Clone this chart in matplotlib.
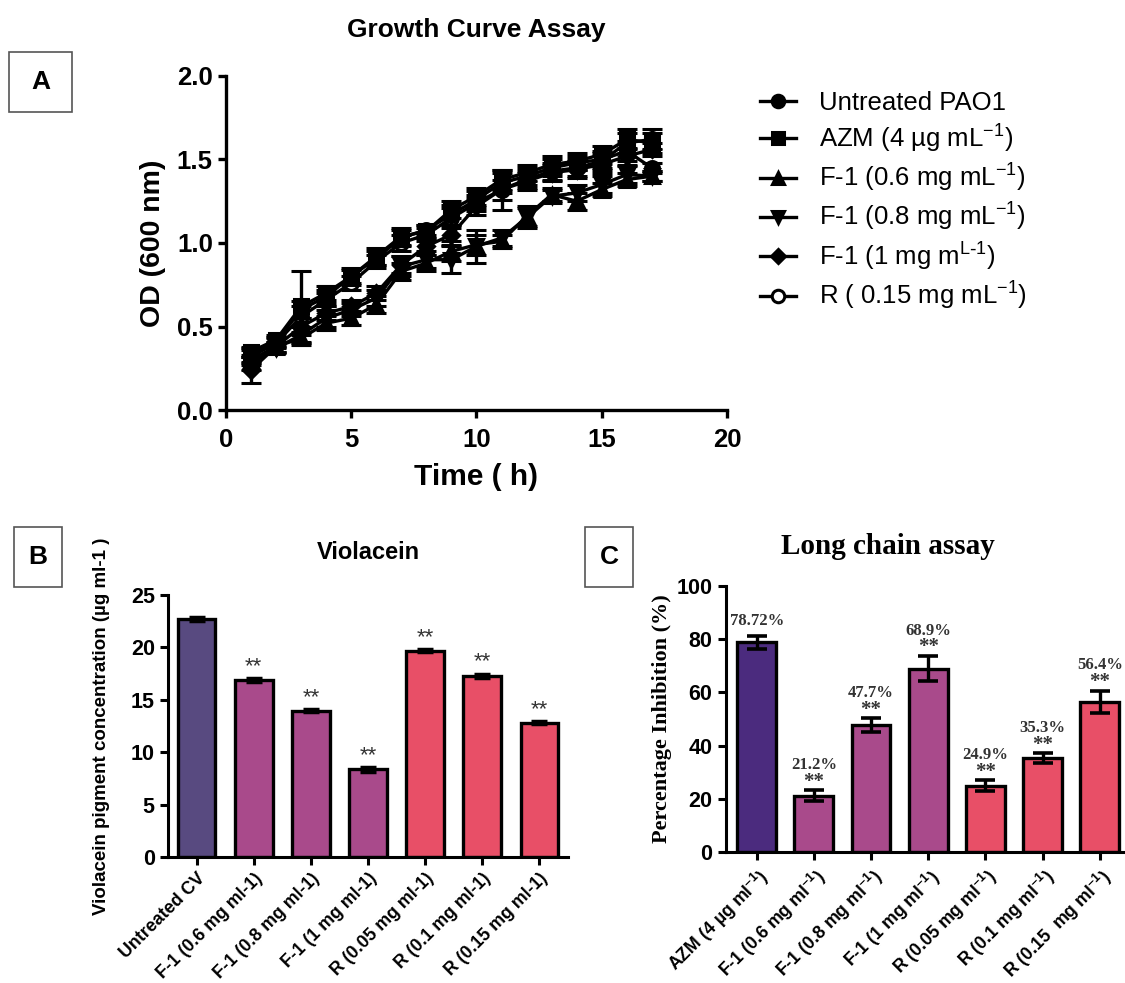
import numpy as np
import matplotlib
matplotlib.use("Agg")
import matplotlib.pyplot as plt
from matplotlib.patches import Rectangle
from matplotlib.lines import Line2D

plt.rcParams['font.family'] = ['Liberation Sans', 'DejaVu Sans']
plt.rcParams['mathtext.default'] = 'regular'

# ---- panel A : growth curve ----
hours = [1, 2, 3, 4, 5, 6, 7, 8, 9, 10, 11, 12, 13, 14, 15, 16, 17]

od_untreated = [0.33, 0.41, 0.60, 0.68, 0.80, 0.91, 1.03, 1.08, 1.17, 1.26, 1.36, 1.40, 1.45, 1.48, 1.50, 1.55, 1.45]
sd_untreated = [0.04, 0.03, 0.05, 0.04, 0.04, 0.04, 0.05, 0.03, 0.06, 0.05, 0.06, 0.05, 0.05, 0.04, 0.05, 0.06, 0.03]
od_azm = [0.35, 0.42, 0.62, 0.70, 0.80, 0.92, 1.04, 1.07, 1.20, 1.28, 1.38, 1.42, 1.47, 1.49, 1.53, 1.62, 1.60]
sd_azm = [0.03, 0.03, 0.21, 0.04, 0.05, 0.05, 0.05, 0.04, 0.05, 0.05, 0.06, 0.05, 0.05, 0.05, 0.05, 0.06, 0.06]
od_f06 = [0.30, 0.38, 0.43, 0.52, 0.55, 0.63, 0.83, 0.88, 0.95, 0.99, 1.01, 1.16, 1.29, 1.25, 1.32, 1.38, 1.40]
sd_f06 = [0.03, 0.03, 0.04, 0.04, 0.04, 0.05, 0.05, 0.05, 0.06, 0.06, 0.04, 0.06, 0.04, 0.05, 0.04, 0.04, 0.03]
od_f08 = [0.28, 0.37, 0.45, 0.55, 0.60, 0.67, 0.86, 0.90, 0.90, 0.98, 1.03, 1.15, 1.28, 1.30, 1.35, 1.41, 1.40]
sd_f08 = [0.04, 0.03, 0.05, 0.05, 0.04, 0.05, 0.06, 0.05, 0.08, 0.10, 0.05, 0.06, 0.04, 0.05, 0.05, 0.05, 0.03]
od_f1 = [0.24, 0.38, 0.50, 0.58, 0.62, 0.70, 0.87, 0.98, 1.05, 1.22, 1.32, 1.37, 1.42, 1.44, 1.47, 1.52, 1.56]
sd_f1 = [0.08, 0.03, 0.05, 0.04, 0.04, 0.04, 0.05, 0.05, 0.06, 0.05, 0.06, 0.05, 0.05, 0.05, 0.05, 0.05, 0.04]
od_r = [0.32, 0.40, 0.56, 0.66, 0.76, 0.89, 1.00, 1.05, 1.15, 1.24, 1.32, 1.38, 1.43, 1.45, 1.49, 1.60, 1.62]
sd_r = [0.04, 0.03, 0.06, 0.04, 0.04, 0.04, 0.05, 0.04, 0.06, 0.05, 0.12, 0.05, 0.05, 0.05, 0.05, 0.06, 0.06]

growth_labels = ['Untreated PAO1', 'AZM (4 µg mL$^{-1}$)', 'F-1 (0.6 mg mL$^{-1}$)',
                 'F-1 (0.8 mg mL$^{-1}$)', r'F-1 (1 mg m$^{L\text{-}1}$)', 'R ( 0.15 mg mL$^{-1}$)']

# ---- panel B : violacein ----
vio_labels = ['Untreated CV', 'F-1 (0.6 mg ml-1)', 'F-1 (0.8 mg ml-1)', 'F-1 (1 mg ml-1)',
              'R (0.05 mg ml-1)', 'R (0.1 mg ml-1)', 'R (0.15 mg ml-1)']
vio_values = [22.7, 16.9, 13.95, 8.35, 19.7, 17.3, 12.8]
vio_err = [0.2, 0.2, 0.15, 0.2, 0.15, 0.2, 0.15]
vio_sig = ['', '**', '**', '**', '**', '**', '**']

# ---- panel C : long chain assay ----
lc_labels = ['AZM (4 µg ml$^{-1}$)', 'F-1 (0.6 mg ml$^{-1}$)', 'F-1 (0.8 mg ml$^{-1}$)', 'F-1 (1 mg ml$^{-1}$)',
             'R (0.05 mg ml$^{-1}$)', 'R (0.1 mg ml$^{-1}$)', 'R (0.15  mg ml$^{-1}$)']
lc_values = [78.72, 21.2, 47.7, 68.9, 24.9, 35.3, 56.4]
lc_err = [2.5, 1.9, 2.5, 4.8, 2.0, 1.8, 4.2]
lc_pct = ['78.72%', '21.2%', '47.7%', '68.9%', '24.9%', '35.3%', '56.4%']
lc_sig = ['', '**', '**', '**', '**', '**', '**']

c_ctrl = '#584a80'
c_azm = '#4b2b7e'
c_f1 = '#a94a8b'
c_r = '#e84f67'

fig = plt.figure(figsize=(11.25, 9.83), dpi=100)


def style_axes(ax, lw=2.2):
    for s in ['top', 'right']:
        ax.spines[s].set_visible(False)
    for s in ['left', 'bottom']:
        ax.spines[s].set_linewidth(lw)
    ax.tick_params(direction='out', length=6, width=lw)


def panel_box(x0, y0, w, h, letter):
    # coordinates in pixels from top-left
    W, H = 1125, 983
    fig.patches.append(Rectangle((x0 / W, 1 - (y0 + h) / H), w / W, h / H, transform=fig.transFigure,
                                 fill=False, edgecolor='#555555', linewidth=1.2))
    fig.text((x0 + w / 2) / W, 1 - (y0 + h / 2) / H, letter, ha='center', va='center',
             fontsize=19, fontweight='bold')


# panel A
axA = fig.add_axes([0.2009, 0.5829, 0.4453, 0.3398])
series = [(od_untreated, sd_untreated, 'o', 'black'),
          (od_azm, sd_azm, 's', 'black'),
          (od_f06, sd_f06, '^', 'black'),
          (od_f08, sd_f08, 'v', 'black'),
          (od_f1, sd_f1, 'D', 'black'),
          (od_r, sd_r, 'o', 'white')]
handles = []
for i, ((y, e, m, fc), lab) in enumerate(zip(series, growth_labels)):
    ms = 8 if m == 'D' else 10
    z = 1 if fc == 'white' else 2 + i
    axA.errorbar(hours, y, yerr=e, marker=m, markersize=ms, markerfacecolor=fc,
                 markeredgecolor='black', markeredgewidth=2.2, color='black', linewidth=2.4,
                 ecolor='black', elinewidth=2.4, capsize=7, capthick=2.6, zorder=z)
    handles.append(Line2D([], [], marker=m, markersize=ms - 1, markerfacecolor=fc,
                          markeredgecolor='black', markeredgewidth=2.2, color='black', linewidth=2.4))
axA.set_xlim(0, 20)
axA.set_ylim(0, 2.0)
axA.set_xticks([0, 5, 10, 15, 20])
axA.set_yticks([0, 0.5, 1.0, 1.5, 2.0])
axA.set_yticklabels(['%.1f' % v for v in [0, 0.5, 1.0, 1.5, 2.0]])
style_axes(axA, 2.4)
axA.tick_params(axis='x', pad=7)
for t in axA.get_xticklabels() + axA.get_yticklabels():
    t.set_fontsize(18.5)
    t.set_fontweight('bold')
axA.set_xlabel('Time ( h)', fontsize=21.5, fontweight='bold', labelpad=8)
axA.set_ylabel('OD (600 nm)', fontsize=20.5, fontweight='bold', labelpad=8)
fig.text(476 / 1125, 1 - 30 / 983, 'Growth Curve Assay', ha='center', va='center',
         fontsize=19, fontweight='bold')
fig.legend(handles=handles, labels=growth_labels, loc='upper left',
           bbox_to_anchor=(737 / 1125, 1 - 68 / 983), frameon=False, fontsize=18.5,
           handlelength=1.4, handletextpad=0.9, labelspacing=0.28)
panel_box(9, 52, 63, 60, 'A')

# panel B
axB = fig.add_axes([0.1493, 0.1282, 0.3556, 0.2665])
xb = np.arange(len(vio_values))
b_colors = [c_ctrl, c_f1, c_f1, c_f1, c_r, c_r, c_r]
axB.bar(xb, vio_values, width=0.66, color=b_colors, edgecolor='black', linewidth=2.4, zorder=2)
axB.errorbar(xb, vio_values, yerr=vio_err, fmt='none', ecolor='black', elinewidth=2.2,
             capsize=6, capthick=2.5, zorder=3)
for x, v, e, s in zip(xb, vio_values, vio_err, vio_sig):
    if s:
        axB.text(x, v + e + 0.1, s, ha='center', va='bottom', fontsize=16, color='#333333')
axB.set_xlim(-0.5, 6.5)
axB.set_ylim(0, 25)
axB.set_yticks([0, 5, 10, 15, 20, 25])
axB.set_xticks(xb)
axB.set_xticklabels(vio_labels, rotation=45, ha='right', rotation_mode='anchor')
style_axes(axB, 2.2)
for t in axB.get_xticklabels():
    t.set_fontsize(12.8)
    t.set_fontweight('bold')
for t in axB.get_yticklabels():
    t.set_fontsize(15.5)
    t.set_fontweight('bold')
axB.set_ylabel('Violacein pigment concentration (µg ml-1 )', fontsize=13.5, fontweight='bold')
axB.yaxis.set_label_coords(-0.145, 0.5)
axB.set_title('Violacein', fontsize=17, fontweight='bold', pad=26)
panel_box(14, 527, 48, 60, 'B')

# panel C
axC = fig.add_axes([0.6451, 0.1333, 0.3529, 0.2707])
xc = np.arange(len(lc_values))
c_colors = [c_azm, c_f1, c_f1, c_f1, c_r, c_r, c_r]
axC.bar(xc, lc_values, width=0.68, color=c_colors, edgecolor='black', linewidth=2.4, zorder=2)
axC.errorbar(xc, lc_values, yerr=lc_err, fmt='none', ecolor='black', elinewidth=2.4,
             capsize=7, capthick=2.6, zorder=3)
for x, v, e, p, s in zip(xc, lc_values, lc_err, lc_pct, lc_sig):
    top = v + e
    if s:
        axC.text(x, top - 0.5, s, ha='center', va='bottom', fontsize=15, fontweight='bold',
                 color='#333333', family='Liberation Serif')
        axC.text(x, top + 6.5, p, ha='center', va='bottom', fontsize=12, fontweight='bold',
                 color='#333333', family='Liberation Serif')
    else:
        axC.text(x, top + 2.5, p, ha='center', va='bottom', fontsize=12, fontweight='bold',
                 color='#333333', family='Liberation Serif')
axC.set_xlim(-0.54, 6.4)
axC.set_ylim(0, 100)
axC.set_yticks([0, 20, 40, 60, 80, 100])
axC.set_xticks(xc)
axC.set_xticklabels(lc_labels, rotation=45, ha='right', rotation_mode='anchor')
style_axes(axC, 2.2)
for t in axC.get_xticklabels():
    t.set_fontsize(12.8)
    t.set_fontweight('bold')
for t in axC.get_yticklabels():
    t.set_fontsize(15.5)
    t.set_fontweight('bold')
axC.set_ylabel('Percentage Inhibition (%)', fontsize=16, fontweight='bold',
               family='Liberation Serif', labelpad=3)
fig.text(888 / 1125, 1 - 547 / 983, 'Long chain assay', ha='center', va='center',
         fontsize=21, fontweight='bold', family='Liberation Serif')
panel_box(585, 527, 48, 60, 'C')

fig.savefig('out.png', dpi=100, facecolor='white')
